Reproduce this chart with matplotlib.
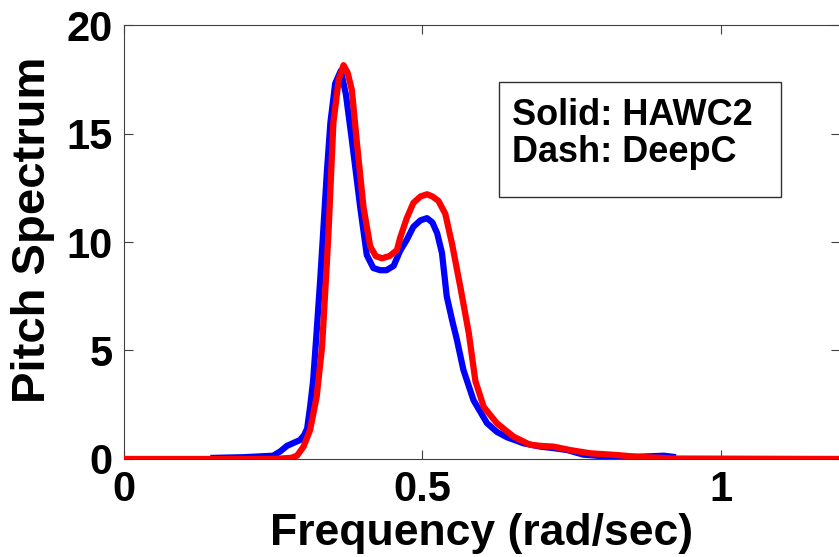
import matplotlib
matplotlib.use("Agg")
from matplotlib import pyplot as plt
from matplotlib.patches import Rectangle

# HAWC2 pitch spectrum (blue)
hawc2_freq = [0.15, 0.20, 0.25, 0.262, 0.273, 0.285, 0.295, 0.302, 0.307, 0.312,
              0.317, 0.322, 0.329, 0.334, 0.340, 0.346, 0.354, 0.3635, 0.372, 0.382,
              0.396, 0.407, 0.418, 0.4295, 0.44, 0.452, 0.463, 0.474, 0.485, 0.497,
              0.508, 0.517, 0.525, 0.533, 0.541, 0.55, 0.558, 0.569, 0.586, 0.6085,
              0.625, 0.642, 0.67, 0.698, 0.72, 0.743, 0.77, 0.815, 0.86, 0.905, 0.92]
hawc2_pitch = [0.05, 0.08, 0.15, 0.35, 0.6, 0.75, 0.87, 1.1, 1.4, 2.4,
               3.6, 5.5, 8.3, 10.5, 13.2, 15.5, 17.3, 17.9, 16.8, 14.7,
               11.6, 9.4, 8.8, 8.7, 8.7, 8.9, 9.6, 10.1, 10.7, 11.0,
               11.1, 10.9, 10.4, 9.5, 7.5, 6.4, 5.5, 4.1, 2.7, 1.65,
               1.25, 1.0, 0.72, 0.57, 0.5, 0.41, 0.2, 0.1, 0.1, 0.15, 0.1]

# DeepC pitch spectrum (red)
deepc_freq = [0.0, 0.25, 0.28, 0.29, 0.301, 0.312, 0.323, 0.332, 0.340, 0.343,
              0.351, 0.36, 0.368, 0.375, 0.382, 0.390, 0.4015, 0.4128, 0.422, 0.4324,
              0.445, 0.4575, 0.463, 0.474, 0.485, 0.497, 0.508, 0.517, 0.527, 0.5386,
              0.55, 0.564, 0.578, 0.589, 0.603, 0.625, 0.653, 0.681, 0.70, 0.72,
              0.748, 0.782, 0.827, 0.86, 0.894, 0.92, 1.2]
deepc_pitch = [0.0, 0.0, 0.05, 0.15, 0.57, 1.34, 2.87, 5.17, 9.0, 10.55,
               15.5, 17.5, 18.15, 17.8, 17.0, 14.7, 11.6, 9.8, 9.35, 9.25,
               9.35, 9.63, 10.2, 11.1, 11.8, 12.1, 12.2, 12.1, 11.9, 11.3,
               9.9, 7.9, 5.8, 3.6, 2.4, 1.65, 1.03, 0.65, 0.6, 0.57,
               0.41, 0.26, 0.18, 0.1, 0.06, 0.02, 0.0]

x_ticks = [0, 0.5, 1]
x_tick_labels = ["0", "0.5", "1"]
y_ticks = [0, 5, 10, 15, 20]

plt.rcParams['font.family'] = ['Liberation Sans', 'DejaVu Sans']
plt.rcParams['font.weight'] = 'bold'

fig = plt.figure(figsize=(8.39, 5.57), dpi=100)
ax = fig.add_axes([0.1478, 0.176, 0.8532, 0.779])

ax.plot(hawc2_freq, hawc2_pitch, color='#0000ff', linewidth=4.5, solid_joinstyle='round')
ax.plot(deepc_freq, deepc_pitch, color='#ff0000', linewidth=4.5, solid_joinstyle='round')

ax.set_xlim(0, 1.2)
ax.set_ylim(0, 20)
ax.set_xticks(x_ticks)
ax.set_xticklabels(x_tick_labels)
ax.set_yticks(y_ticks)

for side in ax.spines:
    ax.spines[side].set_color('#404040')
    ax.spines[side].set_linewidth(0.8)
ax.spines['left'].set_zorder(0.5)
ax.spines['bottom'].set_zorder(0.5)

ax.tick_params(direction='in', length=6.5, width=0.8, color='#404040',
               top=True, right=True, labelsize=30, pad=8)
for lbl in ax.get_xticklabels() + ax.get_yticklabels():
    lbl.set_fontweight('bold')

ax.set_xlabel("Frequency (rad/sec)", fontsize=32, fontweight='bold', labelpad=2)
ax.set_ylabel("Pitch Spectrum", fontsize=34, fontweight='bold')
ax.yaxis.set_label_coords(-0.097, 0.528)

# text box naming the two codes
ax.add_patch(Rectangle((0.5245, 0.6037), 0.393, 0.265, transform=ax.transAxes,
                       facecolor='white', edgecolor='#303030', linewidth=1.0, zorder=5))
ax.text(0.5427, 0.7696, "Solid: HAWC2", transform=ax.transAxes, fontsize=26,
        fontweight='bold', va='baseline', ha='left', zorder=6)
ax.text(0.5427, 0.6843, "Dash: DeepC", transform=ax.transAxes, fontsize=26,
        fontweight='bold', va='baseline', ha='left', zorder=6)

plt.savefig('out.png', dpi=100)
